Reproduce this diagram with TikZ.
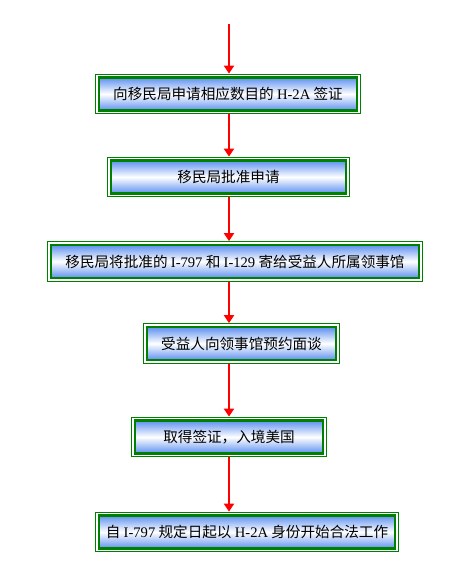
\documentclass[tikz,border=0pt]{standalone}
\usepackage{fontspec}
\setmainfont{Liberation Serif}
\newfontfamily\cjk{Noto Sans CJK SC}
\usetikzlibrary{arrows.meta}
\definecolor{framegreen}{HTML}{008000}
\definecolor{fillblue}{HTML}{5E90F0}
\definecolor{arrowred}{HTML}{FF0000}
\newcommand{\lat}[1]{{\rmfamily #1}}

\begin{document}
\begin{tikzpicture}[
  x=1pt,
  y=-1pt,
  every node/.style={font=\cjk\fontsize{14.6}{18}\selectfont},
  flowbox/.style={
    draw=framegreen, line width=2.2pt,
    top color=fillblue, bottom color=fillblue, middle color=white,
    minimum height=33pt, inner sep=0pt,
    append after command={\pgfextra{
      \draw[framegreen, line width=1.1pt]
        ([shift={(-2.3pt,2.3pt)}]\tikzlastnode.north west) rectangle
        ([shift={(2.3pt,-2.3pt)}]\tikzlastnode.south east);}}
  },
  flowarrow/.style={
    draw=arrowred, line width=2.8pt,
    -{Triangle[width=10pt,length=8pt]},
    shorten >=2.8pt, shorten <=2.8pt
  }
]
  \useasboundingbox (0,0) rectangle (470,579);

  \coordinate (start) at (229,24);

  \node[flowbox, minimum width=258pt] (apply) at (228,94)
    {向移民局申请相应数目的 \lat{H-2A} 签证};
  \node[flowbox, minimum width=235pt] (approve) at (228.5,177)
    {移民局批准申请};
  \node[flowbox, minimum width=368pt] (send) at (235,261.5)
    {移民局将批准的 \lat{I-797} 和 \lat{I-129} 寄给受益人所属领事馆};
  \node[flowbox, minimum width=189pt] (interview) at (241.5,343.5)
    {受益人向领事馆预约面谈};
  \node[flowbox, minimum width=188pt] (visa) at (229,437)
    {取得签证，入境美国};
  \node[flowbox, minimum width=296pt] (work) at (247,532)
    {自 \lat{I-797} 规定日起以 \lat{H-2A} 身份开始合法工作};

  \draw[flowarrow, shorten <=0pt] (start) -- (start |- apply.north);
  \draw[flowarrow] (apply.south -| start) -- (approve.north -| start);
  \draw[flowarrow] (approve.south -| start) -- (send.north -| start);
  \draw[flowarrow] (send.south -| start) -- (interview.north -| start);
  \draw[flowarrow] (interview.south -| start) -- (visa.north -| start);
  \draw[flowarrow] (visa.south -| start) -- (work.north -| start);
\end{tikzpicture}
\end{document}
